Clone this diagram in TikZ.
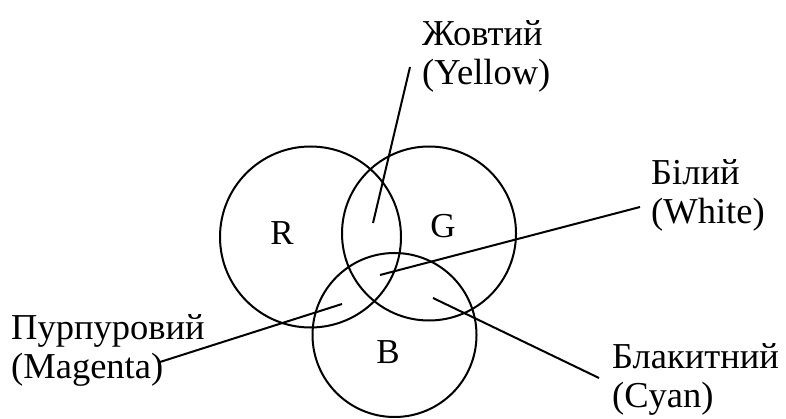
\documentclass[tikz,border=0pt]{standalone}
\usepackage{fontspec}
\setmainfont{Liberation Serif}
\begin{document}
\begin{tikzpicture}[x=1pt,y=-1pt,
  ring/.style={draw=black,line width=2pt},
  lead/.style={draw=black,line width=2pt},
  lbl/.style={inner sep=0pt,anchor=base west,align=left,font=\fontsize{36.5}{39}\selectfont},
  letter/.style={inner sep=0pt,anchor=center,font=\fontsize{35}{40}\selectfont}]
\useasboundingbox (0,0) rectangle (786,419);
% circles
\draw[ring] (310.5,237) circle[radius=90.5];
\draw[ring] (429,233.5) circle[radius=87];
\draw[ring] (394.5,335) circle[radius=82];
% letters
\node[letter] (r) at (282,233.5) {R};
\node[letter] (g) at (443,226) {G};
\node[letter] (b) at (388,352) {B};
% labels (anchor = baseline of last line)
\node[lbl] (yellow) at (422,85) {Жовтий\\(Yellow)};
\node[lbl] (white) at (651,224) {Білий\\(White)};
\node[lbl] (magenta) at (11,378) {Пурпуровий\\(Magenta)};
\node[lbl] (cyan) at (612,407) {Блакитний\\(Cyan)};
% leader line ends
\coordinate (ya) at (410,67);
\coordinate (yb) at (373,223);
\coordinate (wa) at (640,207);
\coordinate (wb) at (380,275);
\coordinate (ma) at (160,362);
\coordinate (mb) at (342,304);
\coordinate (ca) at (599,378);
\coordinate (cb) at (433,298);
\draw[lead] (ya) -- (yb);
\draw[lead] (wa) -- (wb);
\draw[lead] (ma) -- (mb);
\draw[lead] (ca) -- (cb);
\end{tikzpicture}
\end{document}
